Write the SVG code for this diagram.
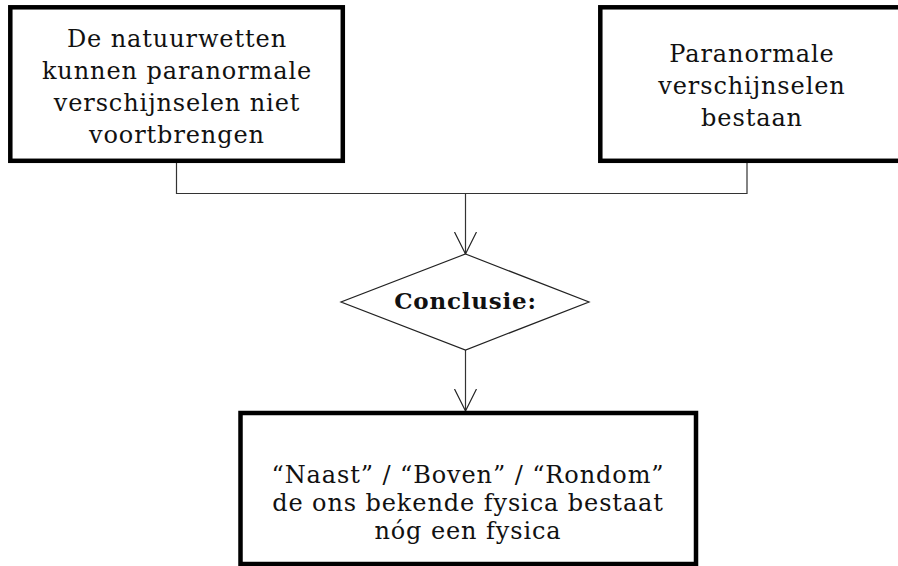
<svg xmlns="http://www.w3.org/2000/svg" width="898" height="566" viewBox="0 0 898 566">
<style>
.box{fill:#fff;stroke:#000;stroke-width:4.5}
.t{font-family:"DejaVu Serif","Liberation Serif",serif;font-size:24px;letter-spacing:0.9px;text-anchor:middle;fill:#111}
.b{font-weight:bold;font-size:23px;letter-spacing:0.8px}
.c{fill:none;stroke:#333;stroke-width:1.2}
.d{fill:#fff;stroke:#222;stroke-width:1.2}
</style>
<defs>
<marker id="arr" markerWidth="24" markerHeight="24" refX="22" refY="11" orient="auto" markerUnits="userSpaceOnUse">
<path d="M0,0 L22,11 L0,22" fill="none" stroke="#222" stroke-width="1.2"/>
</marker>
</defs>
<g id="connectors">
<path class="c" d="M176.5,163 V193.5 H747 V163"/>
<path class="c" d="M465.5,193.5 V254" marker-end="url(#arr)"/>
<path class="c" d="M465.5,350 V411" marker-end="url(#arr)"/>
</g>
<g id="box1">
<rect class="box" x="10.3" y="7.3" width="332.5" height="153.5"/>
<text class="t" x="177" y="47">De natuurwetten</text>
<text class="t" x="177" y="79">kunnen paranormale</text>
<text class="t" x="177" y="111">verschijnselen niet</text>
<text class="t" x="177" y="142.5">voortbrengen</text>
</g>
<g id="box2">
<rect class="box" x="600.3" y="7.3" width="310" height="153.5"/>
<text class="t" x="752" y="62">Paranormale</text>
<text class="t" x="752" y="94">verschijnselen</text>
<text class="t" x="752" y="125.5">bestaan</text>
</g>
<g id="decision">
<polygon class="d" points="465.5,254 589,302 465.5,350 341,302"/>
<text class="t b" x="465.5" y="309">Conclusie:</text>
</g>
<g id="box3">
<rect class="box" x="240.5" y="413" width="455.5" height="151"/>
<text class="t" x="468" y="482.5">“Naast” / “Boven” / “Rondom”</text>
<text class="t" x="468" y="511">de ons bekende fysica bestaat</text>
<text class="t" x="468" y="539">nóg een fysica</text>
</g>
</svg>
